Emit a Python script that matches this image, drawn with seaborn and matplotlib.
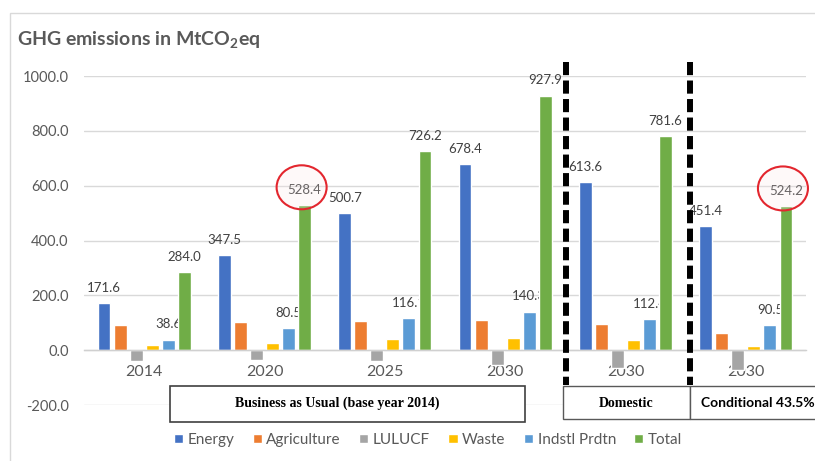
import matplotlib
matplotlib.use("Agg")
import matplotlib.pyplot as plt
import numpy as np
import pandas as pd
import seaborn as sns
from matplotlib.patches import Rectangle, Ellipse
from matplotlib.lines import Line2D
from matplotlib.transforms import IdentityTransform

# ---------------- data ----------------
periods = ["BAU 2014", "BAU 2020", "BAU 2025", "BAU 2030", "Domestic 2030", "Conditional 2030"]
period_labels = ["2014", "2020", "2025", "2030", "2030", "2030"]
sectors = ["Energy", "Agriculture", "LULUCF", "Waste", "Indstl Prdtn", "Total"]
energy = [171.6, 347.5, 500.7, 678.4, 613.6, 451.4]
agriculture = [91, 101, 106, 109, 95, 61]
lulucf = [-40, -36, -40, -55, -66, -73]
waste = [18, 27, 39, 43, 36, 15]
indstl = [38.6, 80.5, 116.1, 140.3, 112.4, 90.5]
total = [284.0, 528.4, 726.2, 927.9, 781.6, 524.2]
colors = ["#4472C4", "#ED7D31", "#A5A5A5", "#FFC000", "#5B9BD5", "#70AD47"]
labelled_sectors = ["Energy", "Indstl Prdtn", "Total"]
circled_periods = ["BAU 2020", "Conditional 2030"]
scenario_boxes = ["Business as Usual (base year 2014)", "Domestic", "Conditional 43.5%"]
title = "GHG emissions in MtCO$_\\mathbf{2}$eq"

values = [energy, agriculture, lulucf, waste, indstl, total]
df = pd.DataFrame({
    "period": np.repeat([periods], len(sectors), axis=0).ravel(),
    "sector": np.repeat(sectors, len(periods)),
    "value": np.concatenate(values),
})

# ---------------- style ----------------
sns.set_style("white")
plt.rcParams["font.family"] = ["Lato", "DejaVu Sans"]
plt.rcParams["mathtext.fontset"] = "custom"
plt.rcParams["mathtext.rm"] = "Lato"
plt.rcParams["mathtext.bf"] = "Lato:bold"
GREY = "#595959"

W, H = 815, 461
fig = plt.figure(figsize=(W / 100, H / 100), dpi=100)
fx = lambda px: px / W
fy = lambda py: 1 - py / H

ax = fig.add_axes([fx(84), fy(405), (806 - 84) / W, (405 - 76) / H])
sns.barplot(data=df, x="period", y="value", hue="sector", order=periods,
            hue_order=sectors, palette=colors, width=0.8, gap=0.2,
            errorbar=None, ax=ax, saturation=1)

ax.set_ylim(-200, 1000)
ax.set_xlim(-0.5, 5.5)
ax.set_axisbelow(True)
ax.set_yticks(np.arange(-200, 1001, 200))
ax.set_yticklabels([f"{v:.1f}" for v in np.arange(-200, 1001, 200)])
ax.set_xticks(range(len(periods)))
ax.set_xticklabels(period_labels)
ax.set_xlabel("")
ax.set_ylabel("")
ax.yaxis.grid(True, color="#d9d9d9", lw=1)
ax.xaxis.grid(False)
for s in ["top", "right", "left"]:
    ax.spines[s].set_visible(False)
ax.spines["bottom"].set_position(("data", 0))
ax.spines["bottom"].set_color("#d0d0d0")
ax.spines["bottom"].set_linewidth(1)
ax.tick_params(axis="x", length=0, pad=11, labelsize=11.5, labelcolor=GREY)
ax.tick_params(axis="y", length=0, pad=11, labelsize=10.5, labelcolor=GREY)

# data labels
for container, sector in zip(ax.containers, sectors):
    if sector not in labelled_sectors:
        continue
    for bar in container:
        xc = bar.get_x() + bar.get_width() / 2
        h = bar.get_height()
        ax.annotate(f"{h:.1f}", (xc, h), xytext=(0, 11), textcoords="offset points",
                    ha="center", va="center", fontsize=9.5, color="#404040", zorder=0.9)

# legend
handles, labels = ax.get_legend_handles_labels()
if ax.legend_ is not None:
    ax.legend_.remove()
fig.legend(handles, labels, loc="center", bbox_to_anchor=(fx(428), fy(440)), ncol=6,
           frameon=False, handlelength=0.6, handleheight=0.6, handletextpad=0.3,
           columnspacing=1.2, fontsize=11, labelcolor=GREY)

# outer frame
fig.add_artist(Rectangle((fx(10), fy(480)), 1.0, (480 - 13) / H, transform=fig.transFigure,
                         fc="none", ec="#d9d9d9", lw=1, zorder=0))

# title
fig.text(fx(17), fy(40), title, fontsize=14, fontweight="bold", color=GREY,
         ha="left", va="center")

# scenario boxes
fig.add_artist(Rectangle((fx(170), fy(422)), (525 - 170) / W, (422 - 386) / H,
                         transform=fig.transFigure, fc="white", ec="#404040", lw=1.2, zorder=3))
fig.add_artist(Rectangle((fx(563), fy(419)), (690 - 563) / W, (419 - 386) / H,
                         transform=fig.transFigure, fc="white", ec="#595959", lw=1, zorder=3))
fig.add_artist(Rectangle((fx(690), fy(419)), (840 - 690) / W, (419 - 386) / H,
                         transform=fig.transFigure, fc="white", ec="#595959", lw=1, zorder=3))
fig.text(fx(337), fy(403), scenario_boxes[0], family="Liberation Serif", fontweight="bold",
         fontsize=10, color="black", ha="center", va="center", zorder=4)
fig.text(fx(626), fy(403), scenario_boxes[1], family="Liberation Serif", fontweight="bold",
         fontsize=10, color="black", ha="center", va="center", zorder=4)
fig.text(fx(701), fy(403), scenario_boxes[2], fontweight="bold",
         fontsize=10, color="black", ha="left", va="center", zorder=4)

# dashed separators
for xpx in [566, 690]:
    fig.add_artist(Line2D([fx(xpx), fx(xpx)], [fy(62), fy(385)], transform=fig.transFigure,
                          color="black", lw=4.3, linestyle=(0, (2.2, 0.9)), zorder=5))

# red circles around highlighted totals
total_container = ax.containers[sectors.index("Total")]
for p in circled_periods:
    bar = total_container[periods.index(p)]
    xc = bar.get_x() + bar.get_width() / 2
    px, py = ax.transData.transform((xc, bar.get_height()))
    fig.add_artist(Ellipse((px - 3, py + 18), 50, 44, transform=IdentityTransform(),
                           fc=(0.99, 0.9, 0.91, 0.22), ec="#e3262e", lw=1.5, zorder=6))

fig.savefig("out.png", dpi=100)
